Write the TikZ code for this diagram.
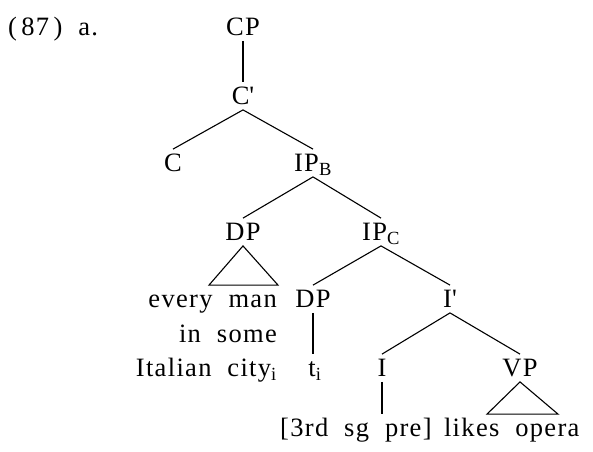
\documentclass[tikz,border=0pt]{standalone}
\usepackage{fontspec}
\setmainfont{Liberation Serif}[LetterSpace=5, WordSpace=2]
\usetikzlibrary{positioning}
\begin{document}
\begin{tikzpicture}[
    x=1pt, y=-1pt,
    cat/.style={inner xsep=1pt, inner ysep=5pt, text height=17.4pt, text depth=0pt, font=\fontsize{26.5}{34}\selectfont},
    word/.style={cat, inner xsep=0pt},
    branch/.style={line width=1.1pt}
]
\useasboundingbox (0,0) rectangle (593,451);
\node[word, anchor=west] (ex) at (8,27) {(\,87\,)~a.};
\node[cat] (cp) at (243,27) {CP};
\node[cat] (cbar) at (243,96) {C\textquotesingle};
\node[cat] (c) at (173,163) {C};
\node[cat] (ipb) at (313,163) {IP\textsubscript{B}};
\node[cat] (dpa) at (243,232) {DP};
\node[cat] (ipc) at (381,232) {IP\textsubscript{C}};
\node[word, anchor=east] (dpw1) at (277,299) {every man};
\node[word, anchor=east] (dpw2) at (277,334) {in some};
\node[word, anchor=east] (dpw3) at (277,368) {Italian city\textsubscript{i}};
\node[cat] (dpb) at (313,299) {DP};
\node[cat] (ibar) at (450,299) {I\textquotesingle};
\node[cat] (t) at (315,368) {t\textsubscript{i}};
\node[cat] (i) at (382,368) {I};
\node[cat] (vp) at (520,368) {VP};
\node[word, anchor=west] (infl) at (280,428) {[3rd sg pre]};
\node[word, right=12pt of infl] (vbar) {likes opera};
\draw[branch] (cp.south) -- (cbar.north);
\draw[branch] (cbar.south) -- (c.north);
\draw[branch] (cbar.south) -- (ipb.north);
\draw[branch] (ipb.south) -- (dpa.north);
\draw[branch] (ipb.south) -- (ipc.north);
\draw[branch] (dpa.south) -- ([xshift=-34pt]dpa.south |- dpw1.north) -- ([xshift=35pt]dpa.south |- dpw1.north) -- cycle;
\draw[branch] (ipc.south) -- (dpb.north);
\draw[branch] (ipc.south) -- (ibar.north);
\draw[branch] (dpb.south) -- (dpb.south |- t.north);
\draw[branch] (ibar.south) -- (i.north);
\draw[branch] (ibar.south) -- (vp.north);
\draw[branch] (i.south) -- (i.south |- infl.north);
\draw[branch] (vp.south) -- ([xshift=-33pt]vp.south |- vbar.north) -- ([xshift=38pt]vp.south |- vbar.north) -- cycle;
\end{tikzpicture}
\end{document}
